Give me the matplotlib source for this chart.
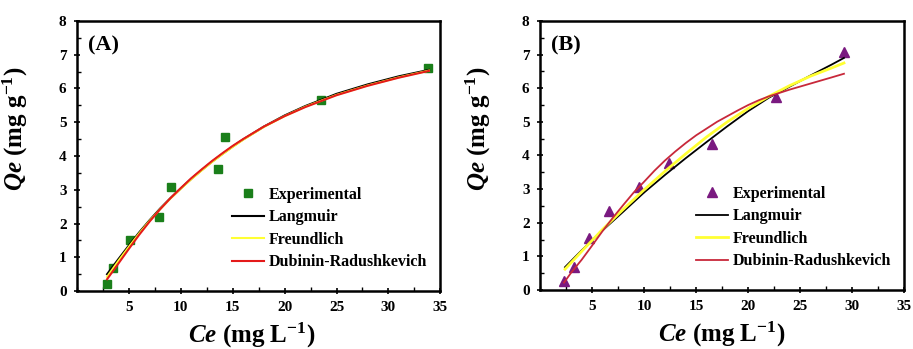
import matplotlib.pyplot as plt
from matplotlib.ticker import MultipleLocator

plt.rcParams["font.family"] = "Liberation Serif"
plt.rcParams["font.weight"] = "bold"
plt.rcParams["mathtext.fontset"] = "custom"
plt.rcParams["mathtext.rm"] = "Liberation Serif:bold"
plt.rcParams["mathtext.it"] = "Liberation Serif:italic:bold"
plt.rcParams["mathtext.bf"] = "Liberation Serif:bold"

# ---- panel A data ----
ce_a = [2.85, 3.5, 5.1, 7.9, 9.1, 13.6, 14.3, 23.5, 33.8]
qe_a = [0.22, 0.67, 1.51, 2.2, 3.09, 3.62, 4.56, 5.65, 6.62]

fit_x_a = [2.9, 4, 5, 6, 7, 8, 9, 10, 11, 12, 13, 14, 15, 16, 18, 20, 22, 25, 28, 31, 33.9]
lang_a = [0.5, 0.95, 1.35, 1.74, 2.1, 2.44, 2.75, 3.04, 3.32, 3.58, 3.83, 4.06, 4.28,
          4.49, 4.87, 5.2, 5.48, 5.84, 6.12, 6.36, 6.55]
freu_a = [0.42, 0.9, 1.31, 1.71, 2.08, 2.42, 2.74, 3.03, 3.31, 3.57, 3.82, 4.05, 4.27,
          4.48, 4.86, 5.18, 5.46, 5.81, 6.09, 6.33, 6.53]
dr_a = [0.35, 0.82, 1.25, 1.67, 2.06, 2.42, 2.75, 3.05, 3.34, 3.6, 3.85, 4.08, 4.3,
        4.5, 4.87, 5.18, 5.45, 5.8, 6.08, 6.32, 6.52]

# ---- panel B data ----
ce_b = [2.3, 3.3, 4.7, 6.65, 9.5, 12.4, 16.55, 22.65, 29.2]
qe_b = [0.28, 0.69, 1.54, 2.35, 3.07, 3.79, 4.35, 5.75, 7.09]

fit_x_b = [2.4, 4, 6, 8, 10, 12, 14, 16, 18, 20, 22, 24, 26, 28, 29.2]
lang_b = [0.68, 1.18, 1.77, 2.33, 2.9, 3.42, 3.92, 4.4, 4.87, 5.32, 5.72, 6.05, 6.38,
          6.7, 6.9]
freu_b = [0.62, 1.15, 1.8, 2.4, 2.98, 3.53, 4.05, 4.55, 5.0, 5.4, 5.76, 6.08, 6.36,
          6.6, 6.75]

dr_x_b = [2.3, 3, 4, 5, 6, 7, 8, 9, 10, 11, 12, 13, 14, 15, 16, 17, 18, 19, 20, 21,
          22, 23, 24, 25, 26, 27, 28, 29.2]
dr_b = [0.22, 0.52, 0.9, 1.32, 1.75, 2.15, 2.53, 2.9, 3.22, 3.55, 3.85, 4.12, 4.37,
        4.6, 4.8, 5.0, 5.17, 5.34, 5.5, 5.64, 5.76, 5.86, 5.96, 6.05, 6.14, 6.23,
        6.32, 6.43]

fig = plt.figure(figsize=(9.13, 3.49), dpi=100)
ax1 = fig.add_axes([0.0843, 0.166, 0.398, 0.774])
ax2 = fig.add_axes([0.5915, 0.169, 0.399, 0.771])


def style_axes(ax, label, xlab_x):
    ax.set_xlim(0, 35)
    ax.set_ylim(0, 8)
    ax.set_xticks([5, 10, 15, 20, 25, 30, 35])
    ax.set_yticks(range(0, 9))
    ax.xaxis.set_minor_locator(MultipleLocator(2.5))
    ax.yaxis.set_minor_locator(MultipleLocator(0.5))
    ax.tick_params(which="major", direction="inout", length=5, width=1.2,
                   labelsize=11, pad=5)
    ax.tick_params(which="minor", direction="in", length=3, width=1)
    for t in ax.get_xticklabels() + ax.get_yticklabels():
        t.set_fontweight("bold")
    for s in ax.spines.values():
        s.set_linewidth(1.8)
    ax.set_xlabel(r"$Ce$ (mg L$^{-1}$)", fontsize=18, fontweight="bold")
    ax.set_ylabel(r"$Qe$ (mg g$^{-1}$)", fontsize=18, fontweight="bold")
    ax.xaxis.set_label_coords(xlab_x, -0.11)
    ax.yaxis.set_label_coords(-0.13, 0.6)
    ax.text(0.03, 0.91, label, transform=ax.transAxes, fontsize=16,
            fontweight="bold", va="center")
    ax.legend(loc="lower right", frameon=False, fontsize=11.5,
              handlelength=2.0, handletextpad=0.3, labelspacing=0.4,
              borderaxespad=0.4, bbox_to_anchor=(1.0, 0.03))


ax1.plot(ce_a, qe_a, "s", color="#1a7f1a", markersize=6, label="Experimental")
ax1.plot(fit_x_a, lang_a, color="black", lw=1.5, label="Langmuir")
ax1.plot(fit_x_a, freu_a, color="#ffff33", lw=1.5, label="Freundlich")
ax1.plot(fit_x_a, dr_a, color="#e41a1a", lw=1.5, label="Dubinin-Radushkevich")
style_axes(ax1, "(A)", 0.48)

ax2.plot(ce_b, qe_b, "^", color="#7a1a80", markersize=7, label="Experimental")
ax2.plot(fit_x_b, lang_b, color="black", lw=1.3, label="Langmuir")
ax2.plot(fit_x_b, freu_b, color="#ffff33", lw=2.0, label="Freundlich")
ax2.plot(dr_x_b, dr_b, color="#c8283a", lw=1.3, label="Dubinin-Radushkevich")
style_axes(ax2, "(B)", 0.5)

fig.savefig("out.png", dpi=100)
